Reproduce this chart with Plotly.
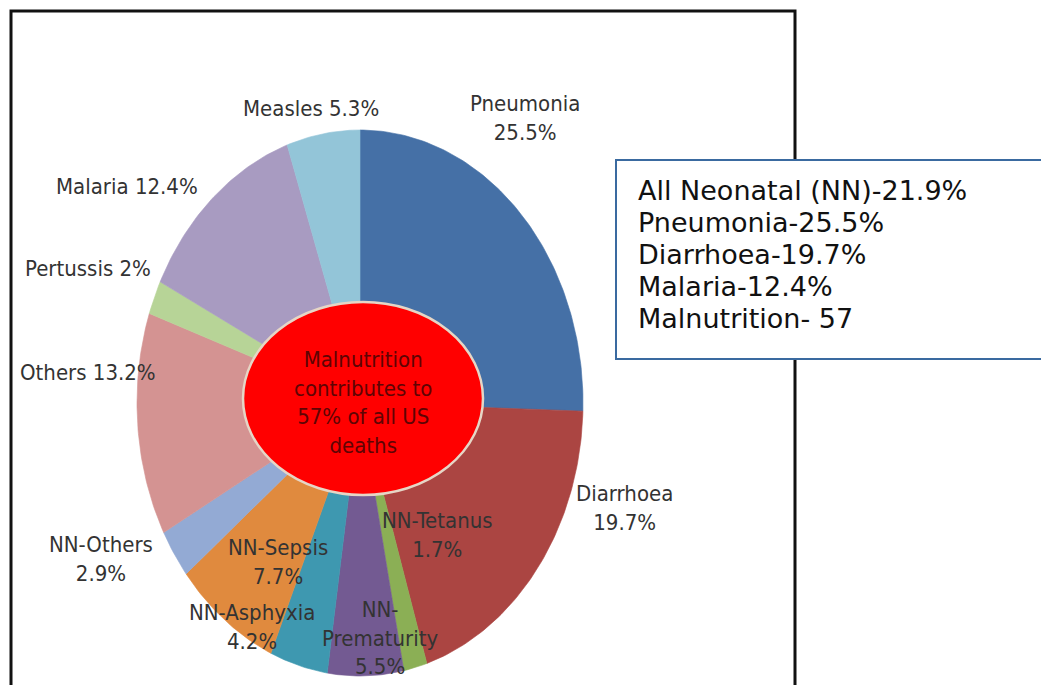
import math
import plotly.graph_objects as go

# ---- data ----
causes = ["Pneumonia", "Diarrhoea", "NN-Tetanus", "NN-Prematurity", "NN-Asphyxia",
          "NN-Sepsis", "NN-Others", "Others", "Pertussis", "Malaria", "Measles"]
shares = [25.5, 19.7, 1.7, 5.5, 4.2, 7.7, 2.9, 13.2, 2.0, 12.4, 5.3]
colors = ["#4570A6", "#AB4542", "#8BAF55", "#735A92", "#3E98B0",
          "#E08A3E", "#93AAD4", "#D49392", "#B7D497", "#A89BC1", "#93C5D8"]
label_texts = ["Pneumonia<br>25.5%", "Diarrhoea<br>19.7%", "NN-Tetanus<br>1.7%",
               "NN-<br>Prematurity<br>5.5%", "NN-Asphyxia<br>4.2%", "NN-Sepsis<br>7.7%",
               "NN-Others<br>2.9%", "Others 13.2%", "Pertussis 2%", "Malaria 12.4%",
               "Measles 5.3%"]
box_lines = ["All Neonatal (NN)-21.9%", "Pneumonia-25.5%", "Diarrhoea-19.7%",
             "Malaria-12.4%", "Malnutrition- 57"]
center_text = "Malnutrition<br>contributes to<br>57% of all US<br>deaths"

# ---- layout (page pixel coordinates; page body has an 8px margin) ----
W, H = 1049, 685
OFF = 8
CX, CY, RX, RY = 360, 403, 223, 273
label_pos = [(525, 118), (624, 508), (437, 535), (380, 638), (252, 627), (278, 562),
             (101, 559), (88, 372), (88, 268), (127, 186), (311, 108)]

fig = go.Figure()
total = sum(shares)
cum = 0.0
for name, v, c in zip(causes, shares, colors):
    a0 = cum / total * 2 * math.pi
    cum += v
    a1 = cum / total * 2 * math.pi
    n = max(4, int((a1 - a0) / (2 * math.pi) * 400))
    xs, ys = [CX], [CY]
    for i in range(n + 1):
        a = a0 + (a1 - a0) * i / n
        xs.append(CX + RX * math.sin(a))
        ys.append(CY - RY * math.cos(a))
    xs.append(CX); ys.append(CY)
    fig.add_trace(go.Scatter(x=xs, y=ys, fill="toself", fillcolor=c, mode="lines",
                             line=dict(width=0.6, color=c), name=name,
                             hoverinfo="name", showlegend=False))

label_font = dict(family="DejaVu Sans Condensed, DejaVu Sans, sans-serif", size=22, color="#333333")
annotations = []
for t, (x, y) in zip(label_texts, label_pos):
    annotations.append(dict(x=x, y=y, xref="x", yref="y", text=t, showarrow=False,
                            xanchor="center", yanchor="middle", font=label_font, align="center"))

annotations.append(dict(x=363, y=402, xref="x", yref="y", text=center_text, showarrow=False,
                        xanchor="center", yanchor="middle", align="center",
                        font=dict(family="DejaVu Sans Condensed, DejaVu Sans, sans-serif",
                                  size=22, color="#5E0404")))

box_y = [190, 222, 254, 286, 318]
for t, y in zip(box_lines, box_y):
    annotations.append(dict(x=636, y=y, xref="x", yref="y", text=t, showarrow=False,
                            xanchor="left", yanchor="middle",
                            font=dict(family="Verdana, DejaVu Sans, sans-serif", size=27,
                                      color="#111111")))

shapes = [
    dict(type="rect", xref="x", yref="y", x0=11, y0=11, x1=795, y1=H + 40,
         line=dict(color="#111111", width=3), fillcolor="rgba(0,0,0,0)", layer="below"),
    dict(type="circle", xref="x", yref="y", x0=243, y0=302, x1=483, y1=495,
         fillcolor="#FF0000", line=dict(color="#E6D6C6", width=2.5), layer="above"),
    dict(type="rect", xref="x", yref="y", x0=616, y0=160, x1=W + 40, y1=359,
         fillcolor="white", line=dict(color="#3A6AA0", width=2), layer="above"),
]

fig.update_layout(
    width=W, height=H, margin=dict(l=0, r=0, t=0, b=0),
    paper_bgcolor="white", plot_bgcolor="white",
    xaxis=dict(range=[OFF, W + OFF], visible=False, fixedrange=True),
    yaxis=dict(range=[H + OFF, OFF], visible=False, fixedrange=True),
    shapes=shapes, annotations=annotations, showlegend=False,
)

fig.write_html("out.html")
